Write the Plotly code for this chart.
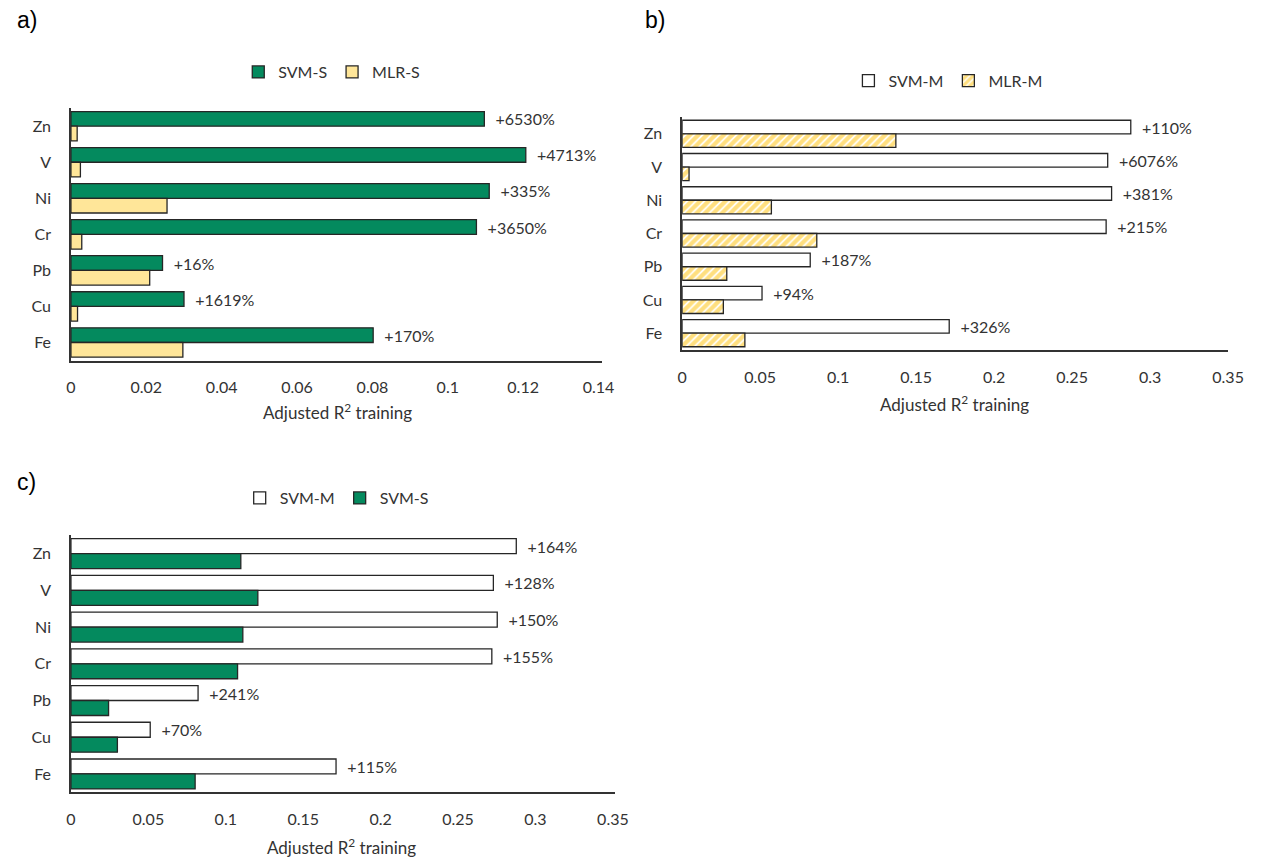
import plotly.graph_objects as go

elements = ["Zn", "V", "Ni", "Cr", "Pb", "Cu", "Fe"]

# Panel a
svm_s = [0.1097, 0.1207, 0.1110, 0.1076, 0.0243, 0.0300, 0.0802]
mlr_s = [0.00165, 0.00251, 0.0255, 0.00287, 0.0209, 0.00175, 0.0297]
labels_a = ["+6530%", "+4713%", "+335%", "+3650%", "+16%", "+1619%", "+170%"]

# Panel b
svm_m = [0.2876, 0.2728, 0.2753, 0.2718, 0.0821, 0.0512, 0.1712]
mlr_m = [0.1370, 0.00442, 0.0572, 0.0863, 0.0286, 0.0264, 0.0402]
labels_b = ["+110%", "+6076%", "+381%", "+215%", "+187%", "+94%", "+326%"]

# Panel c
labels_c = ["+164%", "+128%", "+150%", "+155%", "+241%", "+70%", "+115%"]

ticks_a = [0, 0.02, 0.04, 0.06, 0.08, 0.1, 0.12, 0.14]
ticktext_a = ["0", "0.02", "0.04", "0.06", "0.08", "0.1", "0.12", "0.14"]
ticks_bc = [0, 0.05, 0.1, 0.15, 0.2, 0.25, 0.3, 0.35]
ticktext_bc = ["0", "0.05", "0.1", "0.15", "0.2", "0.25", "0.3", "0.35"]

GREEN = "#048A5E"
LIGHTY = "#FFE699"
HATCH = "#FFC000"
EDGE = "#262626"
TXT = "#333333"
FONT = "Lato"
NB = "\u00a0\u00a0"

W, H = 1270, 858

fig = go.Figure()


def bar(x, name, xa, ya, legend, color, text=None, pattern=None):
    kw = {}
    if text is not None:
        kw = dict(text=text, texttemplate=NB + "%{text}", textposition="outside",
                  constraintext="none", cliponaxis=False,
                  textfont=dict(family=FONT, size=16, color=TXT))
    marker = dict(color=color, line=dict(color=EDGE, width=1.3))
    if pattern:
        marker["pattern"] = pattern
    fig.add_trace(go.Bar(x=x, y=elements, orientation="h", name=name,
                         xaxis=xa, yaxis=ya, legend=legend, marker=marker,
                         hoverinfo="x+y+name", **kw))


hatch = dict(shape="/", fgcolor=HATCH, bgcolor="white", size=6, solidity=0.7)

bar(svm_s, "SVM-S", "x", "y", "legend", GREEN, labels_a)
bar(mlr_s, "MLR-S", "x", "y", "legend", LIGHTY)
bar(svm_m, "SVM-M", "x2", "y2", "legend2", "white", labels_b)
bar(mlr_m, "MLR-M", "x2", "y2", "legend2", "white", pattern=hatch)
bar(svm_m, "SVM-M", "x3", "y3", "legend3", "white", labels_c)
bar(svm_s, "SVM-S", "x3", "y3", "legend3", GREEN)


def px_x(v):
    return v / W


def px_y(v):
    return 1 - v / H


def xax(d0, d1, rng, tv, tt, anchor):
    return dict(domain=[px_x(d0), px_x(d1)], range=rng, anchor=anchor,
                tickvals=tv, ticktext=tt, showgrid=False, zeroline=False,
                showline=True, linecolor="#333333", linewidth=1.5, ticks="",
                ticklabelstandoff=12,
                tickfont=dict(family=FONT, size=16, color=TXT), fixedrange=True)


def yax(t, b, anchor):
    return dict(domain=[px_y(b), px_y(t)], anchor=anchor, autorange="reversed",
                type="category", showgrid=False, zeroline=False, showline=True,
                linecolor="#333333", linewidth=1.5, ticks="", ticklabelstandoff=15,
                tickfont=dict(family=FONT, size=16, color=TXT), fixedrange=True)


def leg(cx, cy):
    return dict(orientation="h", x=px_x(cx), y=px_y(cy), xanchor="center",
                yanchor="middle", font=dict(family=FONT, size=16, color=TXT),
                itemwidth=30, bgcolor="rgba(0,0,0,0)", itemclick=False,
                itemdoubleclick=False)


fig.update_layout(
    width=W, height=H, margin=dict(l=0, r=0, t=0, b=0),
    paper_bgcolor="white", plot_bgcolor="white",
    barmode="group", bargap=0.185, bargroupgap=0,
    xaxis=xax(67, 607, [0, 0.14104], ticks_a, ticktext_a, "y"),
    yaxis=yax(108.2, 360.5, "x"),
    xaxis2=xax(688, 1243, [0, 0.3502], ticks_bc, ticktext_bc, "y2"),
    yaxis2=yax(117.2, 349.8, "x2"),
    xaxis3=xax(67, 620, [0, 0.3515], ticks_bc, ticktext_bc, "y3"),
    yaxis3=yax(535.3, 792.3, "x3"),
    legend=leg(332, 72),
    legend2=leg(958, 80.7),
    legend3=leg(337, 498),
)

title_txt = "Adjusted R<sup>2</sup> training"
for (cx, cy) in [(338, 412), (965, 403), (342, 846)]:
    fig.add_annotation(text=title_txt, x=px_x(cx), y=px_y(cy), xref="paper",
                       yref="paper", showarrow=False, xanchor="center",
                       yanchor="middle", font=dict(family=FONT, size=17, color=TXT))

for (lab, cx, cy) in [("a)", 22, 20), ("b)", 660, 20), ("c)", 22, 482)]:
    fig.add_annotation(text=lab, x=px_x(cx), y=px_y(cy), xref="paper",
                       yref="paper", showarrow=False, xanchor="center",
                       yanchor="middle",
                       font=dict(family="Liberation Sans, Arial", size=23, color="black"))

# remove the browser's default page margin so the figure fills the window exactly
fig.write_html("out.html", config={"displayModeBar": False},
               post_script="document.body.style.margin='0px';")
